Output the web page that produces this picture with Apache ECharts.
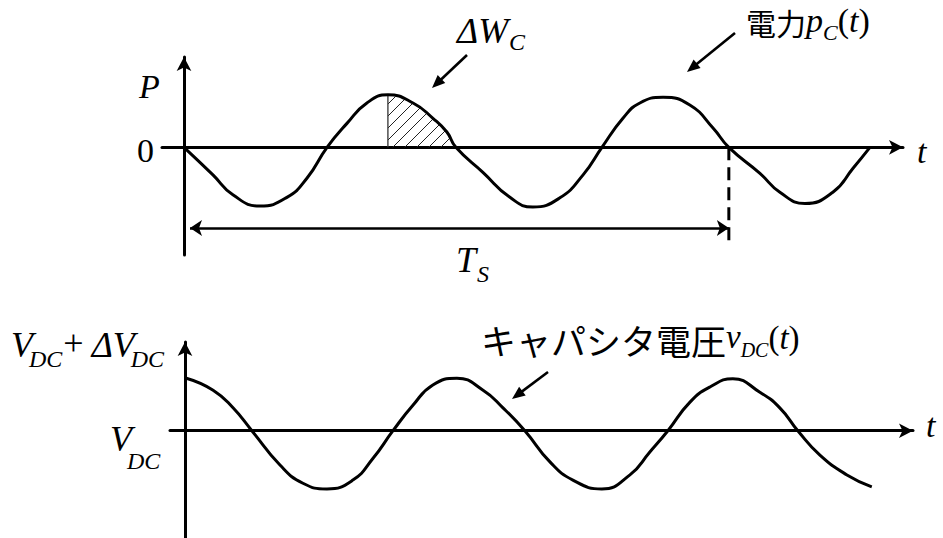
<!DOCTYPE html>
<html>
<head>
<meta charset="utf-8">
<script src="https://cdn.jsdelivr.net/npm/echarts@6.0.0/dist/echarts.min.js"></script>
<style>
  html, body { margin: 0; padding: 0; background: #fff; }
  #chart { width: 943px; height: 538px; }
</style>
</head>
<body>
<div id="chart"></div>
<script>
// Capacitor power p_C(t) over one switching period (time in ripple-period %, power normalised)
const powerT = [0, 10.6, 17.9, 27.8, 37.7, 45.1, 52.4, 59.7, 67.0, 74.7, 83.9, 91.2, 96.3, 99.6,
  109.5, 119.4, 127.8, 137.7, 146.2, 153.1, 160.8, 167.0, 175.5, 185.3, 193.8, 199.6,
  211.0, 218.3, 227.5, 237.7, 245.1, 251.3];
const powerP = [0, -0.54, -0.93, -1.15, -0.98, -0.60, 0, 0.47, 0.87, 1.03, 0.87, 0.57, 0.30, 0,
  -0.49, -0.98, -1.17, -0.99, -0.54, 0, 0.57, 0.87, 0.98, 0.83, 0.38, 0,
  -0.51, -0.88, -1.10, -0.88, -0.41, 0];

// Capacitor voltage ripple v_DC(t) around V_DC (normalised to ΔV_DC)
const voltT = [0.5, 10.3, 17.6, 24.5, 34.8, 43.2, 52.0, 61.5, 68.9, 76.2, 83.5, 90.8, 99.6,
  109.2, 116.5, 124.5, 133.7, 142.1, 152.7, 163.0, 170.3, 176.9, 185.0, 192.3, 200.7,
  210.6, 217.9, 224.5, 232.6, 242.5, 251.6];
const voltV = [1.01, 0.78, 0.44, 0, -0.66, -1.01, -1.12, -0.95, -0.53, 0, 0.49, 0.88, 1.01,
  0.78, 0.44, 0, -0.60, -0.95, -1.12, -0.85, -0.41, 0, 0.55, 0.84, 1.0,
  0.74, 0.44, 0, -0.47, -0.85, -1.08];

// Switching period T_S marker
const tsStart = 2.2;
const tsEnd = 199.6;
const tsLevel = -1.58;
const tsDashBottom = -1.82;

const SERIF = '"Liberation Serif", "Times New Roman", serif';
const CJK = '"Noto Sans CJK JP", sans-serif';

const zip = (xs, ys) => xs.map((x, i) => [x, ys[i]]);
const powerData = zip(powerT, powerP);
const voltData = zip(voltT, voltV);

// ΔW_C: energy from the first power peak down to the next zero crossing
const peakIdx = powerP.indexOf(Math.max(...powerP));
let endIdx = peakIdx + 1;
while (endIdx < powerP.length && powerP[endIdx] > 0) endIdx++;
const hatchData = powerData.slice(peakIdx, endIdx + 1);

// diagonal hatch tile
function hatchTile() {
  const c = document.createElement('canvas');
  const s = 12;
  c.width = s; c.height = s;
  const g = c.getContext('2d');
  g.strokeStyle = '#222';
  g.lineWidth = 1;
  g.beginPath();
  g.moveTo(-1, s + 1); g.lineTo(s + 1, -1);
  g.moveTo(-1, 1); g.lineTo(1, -1);
  g.moveTo(s - 1, s + 1); g.lineTo(s + 1, s - 1);
  g.stroke();
  return c.toDataURL();
}

// text runs with subscripts, placed piece by piece
const measureCtx = document.createElement('canvas').getContext('2d');
function textRun(x, y, parts) {
  const out = [];
  let cx = x;
  parts.forEach(p => {
    const font = (p.it ? 'italic ' : '') + p.size + 'px ' + (p.fam || SERIF);
    measureCtx.font = font;
    cx += p.pre || 0;
    out.push({
      type: 'text', x: cx, y: y + (p.dy || 0), silent: true,
      style: { text: p.s, font: font, fill: '#000', align: 'left', verticalAlign: 'middle' }
    });
    cx += measureCtx.measureText(p.s).width + (p.post || 0);
  });
  return out;
}

function arrow(x1, y1, x2, y2) {
  const len = 13, half = 5.5;
  const dx = x2 - x1, dy = y2 - y1, d = Math.hypot(dx, dy);
  const ux = dx / d, uy = dy / d;
  const bx = x2 - ux * len, by = y2 - uy * len;
  return [
    { type: 'line', silent: true, shape: { x1: x1, y1: y1, x2: bx + ux * 2, y2: by + uy * 2 },
      style: { stroke: '#000', lineWidth: 2.6 } },
    { type: 'polygon', silent: true,
      shape: { points: [[x2, y2], [bx - uy * half, by + ux * half], [bx + uy * half, by - ux * half]] },
      style: { fill: '#000' } }
  ];
}

const axisLine = {
  onZero: true,
  symbol: ['none', 'arrow'],
  symbolSize: [11, 14],
  lineStyle: { color: '#000', width: 3 }
};
const hidden = { axisTick: { show: false }, axisLabel: { show: false }, splitLine: { show: false } };

const graphics = [].concat(
  textRun(139, 86, [{ s: 'P', size: 34, it: true }]),
  textRun(137, 150, [{ s: '0', size: 34 }]),
  textRun(917, 151, [{ s: 't', size: 34, it: true }]),
  textRun(457, 31, [{ s: 'ΔW', size: 36, it: true }, { s: 'C', size: 24, it: true, dy: 11, pre: 1 }]),
  textRun(746, 22, [
    { s: '電力', size: 30, fam: CJK },
    { s: 'p', size: 34, it: true, dy: -2 },
    { s: 'C', size: 22, it: true, dy: 10 },
    { s: '(', size: 34, dy: -2 },
    { s: 't', size: 34, it: true, dy: -2 },
    { s: ')', size: 34, dy: -2 }
  ]),
  textRun(456, 260, [{ s: 'T', size: 36, it: true }, { s: 'S', size: 24, it: true, dy: 14, pre: 1 }]),
  textRun(11, 345, [
    { s: 'V', size: 36, it: true },
    { s: 'DC', size: 24, it: true, dy: 14, pre: -4 },
    { s: '+', size: 36, dy: -2, pre: 1 },
    { s: 'Δ', size: 36, it: true, pre: 8 },
    { s: 'V', size: 36, it: true },
    { s: 'DC', size: 24, it: true, dy: 14, pre: -4 }
  ]),
  textRun(110, 439, [{ s: 'V', size: 36, it: true }, { s: 'DC', size: 24, it: true, dy: 22, pre: -5 }]),
  textRun(926, 425, [{ s: 't', size: 34, it: true }]),
  textRun(481, 339, [
    { s: 'キャパシタ電圧', size: 35, fam: CJK },
    { s: 'v', size: 33, it: true, dy: -2 },
    { s: 'DC', size: 20, it: true, dy: 11 },
    { s: '(', size: 33, dy: -1 },
    { s: 't', size: 33, it: true, dy: -1 },
    { s: ')', size: 33, dy: -1 }
  ]),
  arrow(467, 55, 432, 88),
  arrow(735, 33, 687, 72),
  arrow(548, 372, 512, 399)
);

const chart = echarts.init(document.getElementById('chart'), null, { renderer: 'svg' });
chart.setOption({
  animation: false,
  backgroundColor: '#fff',
  grid: [
    { left: 162, top: 57, width: 741, height: 198 },
    { left: 170, top: 342, width: 743, height: 196 }
  ],
  xAxis: [
    Object.assign({ type: 'value', gridIndex: 0, min: -8.06, max: 263.4, axisLine: axisLine }, hidden),
    Object.assign({ type: 'value', gridIndex: 1, min: -5.49, max: 266.7, axisLine: axisLine }, hidden)
  ],
  yAxis: [
    Object.assign({ type: 'value', gridIndex: 0, min: -2.11, max: 1.771, axisLine: axisLine }, hidden),
    Object.assign({ type: 'value', gridIndex: 1, min: -2.063, max: 1.706, axisLine: axisLine }, hidden)
  ],
  series: [
    {
      name: 'ΔW_C', type: 'line', xAxisIndex: 0, yAxisIndex: 0, data: hatchData,
      smooth: 0.5, symbol: 'none', lineStyle: { width: 0 },
      areaStyle: { color: { image: hatchTile(), repeat: 'repeat' }, opacity: 1 }, z: 2
    },
    {
      name: 'peak', type: 'line', xAxisIndex: 0, yAxisIndex: 0,
      data: [[powerT[peakIdx], 0], [powerT[peakIdx], powerP[peakIdx]]],
      symbol: 'none', lineStyle: { color: '#333', width: 1.3 }, z: 3
    },
    {
      name: 'p_C(t)', type: 'line', xAxisIndex: 0, yAxisIndex: 0, data: powerData,
      smooth: 0.5, symbol: 'none', lineStyle: { color: '#000', width: 3 }, z: 4
    },
    {
      name: 'T_S end', type: 'line', xAxisIndex: 0, yAxisIndex: 0,
      data: [[tsEnd, 0], [tsEnd, tsDashBottom]],
      symbol: 'none', lineStyle: { color: '#000', width: 3, type: [13, 7] }, z: 4
    },
    {
      name: 'T_S', type: 'lines', coordinateSystem: 'cartesian2d', xAxisIndex: 0, yAxisIndex: 0,
      symbol: ['arrow', 'arrow'], symbolSize: 12,
      lineStyle: { color: '#000', width: 2.6, opacity: 1 },
      data: [{ coords: [[tsStart, tsLevel], [tsEnd, tsLevel]] }], z: 4
    },
    {
      name: 'v_DC(t)', type: 'line', xAxisIndex: 1, yAxisIndex: 1, data: voltData,
      smooth: 0.5, symbol: 'none', lineStyle: { color: '#000', width: 3 }, z: 4
    }
  ],
  graphic: graphics
});
</script>
</body>
</html>
